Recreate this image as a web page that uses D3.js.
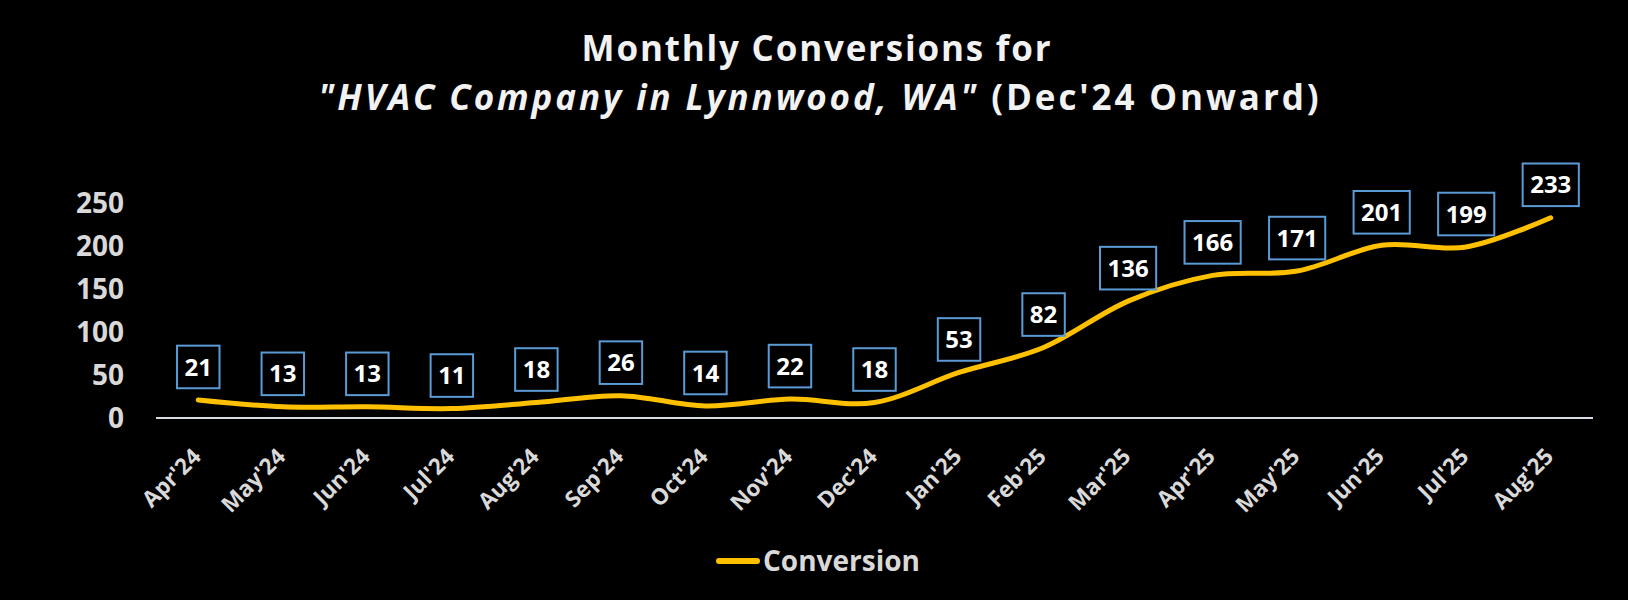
<!DOCTYPE html>
<meta charset="utf-8">
<html>
<head>
<title>Monthly Conversions</title>
<style>
  body { margin: 0; background: #000; }
  svg { display: block; }
  text { font-family: "Open Sans", "Noto Sans", sans-serif; font-weight: bold; }
  .title { fill: #f2f2f2; font-size: 35px; letter-spacing: 1.8px; }
  .title .sub { letter-spacing: 2.9px; }
  .tick-y { fill: #d9d9d9; font-size: 28px; }
  .tick-x { fill: #d9d9d9; font-size: 22.5px; }
  .lbl { fill: #fff; font-size: 24px; }
  .legend { fill: #d9d9d9; font-size: 28px; }
</style>
</head>
<body>
<svg width="1628" height="600"></svg>
<script src="https://cdnjs.cloudflare.com/ajax/libs/d3/7.8.5/d3.min.js"></script>
<script>

// data
var months = ["Apr'24", "May'24", "Jun'24", "Jul'24", "Aug'24", "Sep'24", "Oct'24", "Nov'24", "Dec'24",
              "Jan'25", "Feb'25", "Mar'25", "Apr'25", "May'25", "Jun'25", "Jul'25", "Aug'25"];
var conversions = [21, 13, 13, 11, 18, 26, 14, 22, 18, 53, 82, 136, 166, 171, 201, 199, 233];
var yTicks = [0, 50, 100, 150, 200, 250];

var svg = d3.select("svg"),
    width = +svg.attr("width"),
    height = +svg.attr("height");

svg.append("rect").attr("width", width).attr("height", height).attr("fill", "#000");

// scales
var x = d3.scalePoint().domain(months).range([156, 1593]).padding(0.5);
var y = d3.scaleLinear().domain([0, 250]).range([418, 203.2]);

// title - two lines, second one partly italic
var title = svg.append("text").attr("class", "title").attr("text-anchor", "middle");
title.append("tspan").attr("x", 817).attr("y", 61).text("Monthly Conversions for");
var t2 = title.append("tspan").attr("class", "sub").attr("x", 820).attr("y", 110);
t2.append("tspan").style("font-style", "italic").text("\"HVAC Company in Lynnwood, WA\"");
t2.append("tspan").text(" (Dec'24 Onward)");

// y axis labels, no gridlines
svg.append("g").selectAll("text")
    .data(yTicks)
  .enter().append("text")
    .attr("class", "tick-y")
    .attr("text-anchor", "end")
    .attr("x", 124)
    .attr("y", function(d) { return y(d); })
    .attr("dy", "0.36em")
    .text(function(d) { return d; });

// x axis line
svg.append("line")
    .attr("x1", 156).attr("x2", 1593)
    .attr("y1", y(0)).attr("y2", y(0))
    .attr("stroke", "#d6dce5")
    .attr("stroke-width", 2);

// x labels rotated -45
svg.append("g").selectAll("text")
    .data(months)
  .enter().append("text")
    .attr("class", "tick-x")
    .attr("text-anchor", "end")
    .attr("transform", function(d) { return "translate(" + (x(d) + 4) + ",458) rotate(-45)"; })
    .text(function(d) { return d; });

// smoothed line
var line = d3.line()
    .x(function(d, i) { return x(months[i]); })
    .y(function(d) { return y(d); })
    .curve(d3.curveCatmullRom.alpha(0));

svg.append("path")
    .datum(conversions)
    .attr("fill", "none")
    .attr("stroke", "#ffc000")
    .attr("stroke-width", 5)
    .attr("stroke-linecap", "round")
    .attr("stroke-linejoin", "round")
    .attr("d", line);

// data labels in boxes
var labels = svg.append("g").selectAll("g")
    .data(conversions)
  .enter().append("g")
    .attr("transform", function(d, i) { return "translate(" + x(months[i]) + "," + (y(d) - 33) + ")"; });

labels.append("text")
    .attr("class", "lbl")
    .attr("text-anchor", "middle")
    .attr("dy", "0.36em")
    .text(function(d) { return d; });

labels.insert("rect", "text")
    .attr("fill", "none")
    .attr("stroke", "#5b9bd5")
    .attr("stroke-width", 2)
    .each(function() {
        var w = this.parentNode.querySelector("text").getComputedTextLength() + 15;
        d3.select(this).attr("x", -w / 2).attr("width", w).attr("y", -21.3).attr("height", 42.6);
    });

// legend
svg.append("line")
    .attr("x1", 719).attr("x2", 757)
    .attr("y1", 561).attr("y2", 561)
    .attr("stroke", "#ffc000")
    .attr("stroke-width", 6)
    .attr("stroke-linecap", "round");

svg.append("text")
    .attr("class", "legend")
    .attr("x", 763)
    .attr("y", 571)
    .text("Conversion");

</script>
</body>
</html>
